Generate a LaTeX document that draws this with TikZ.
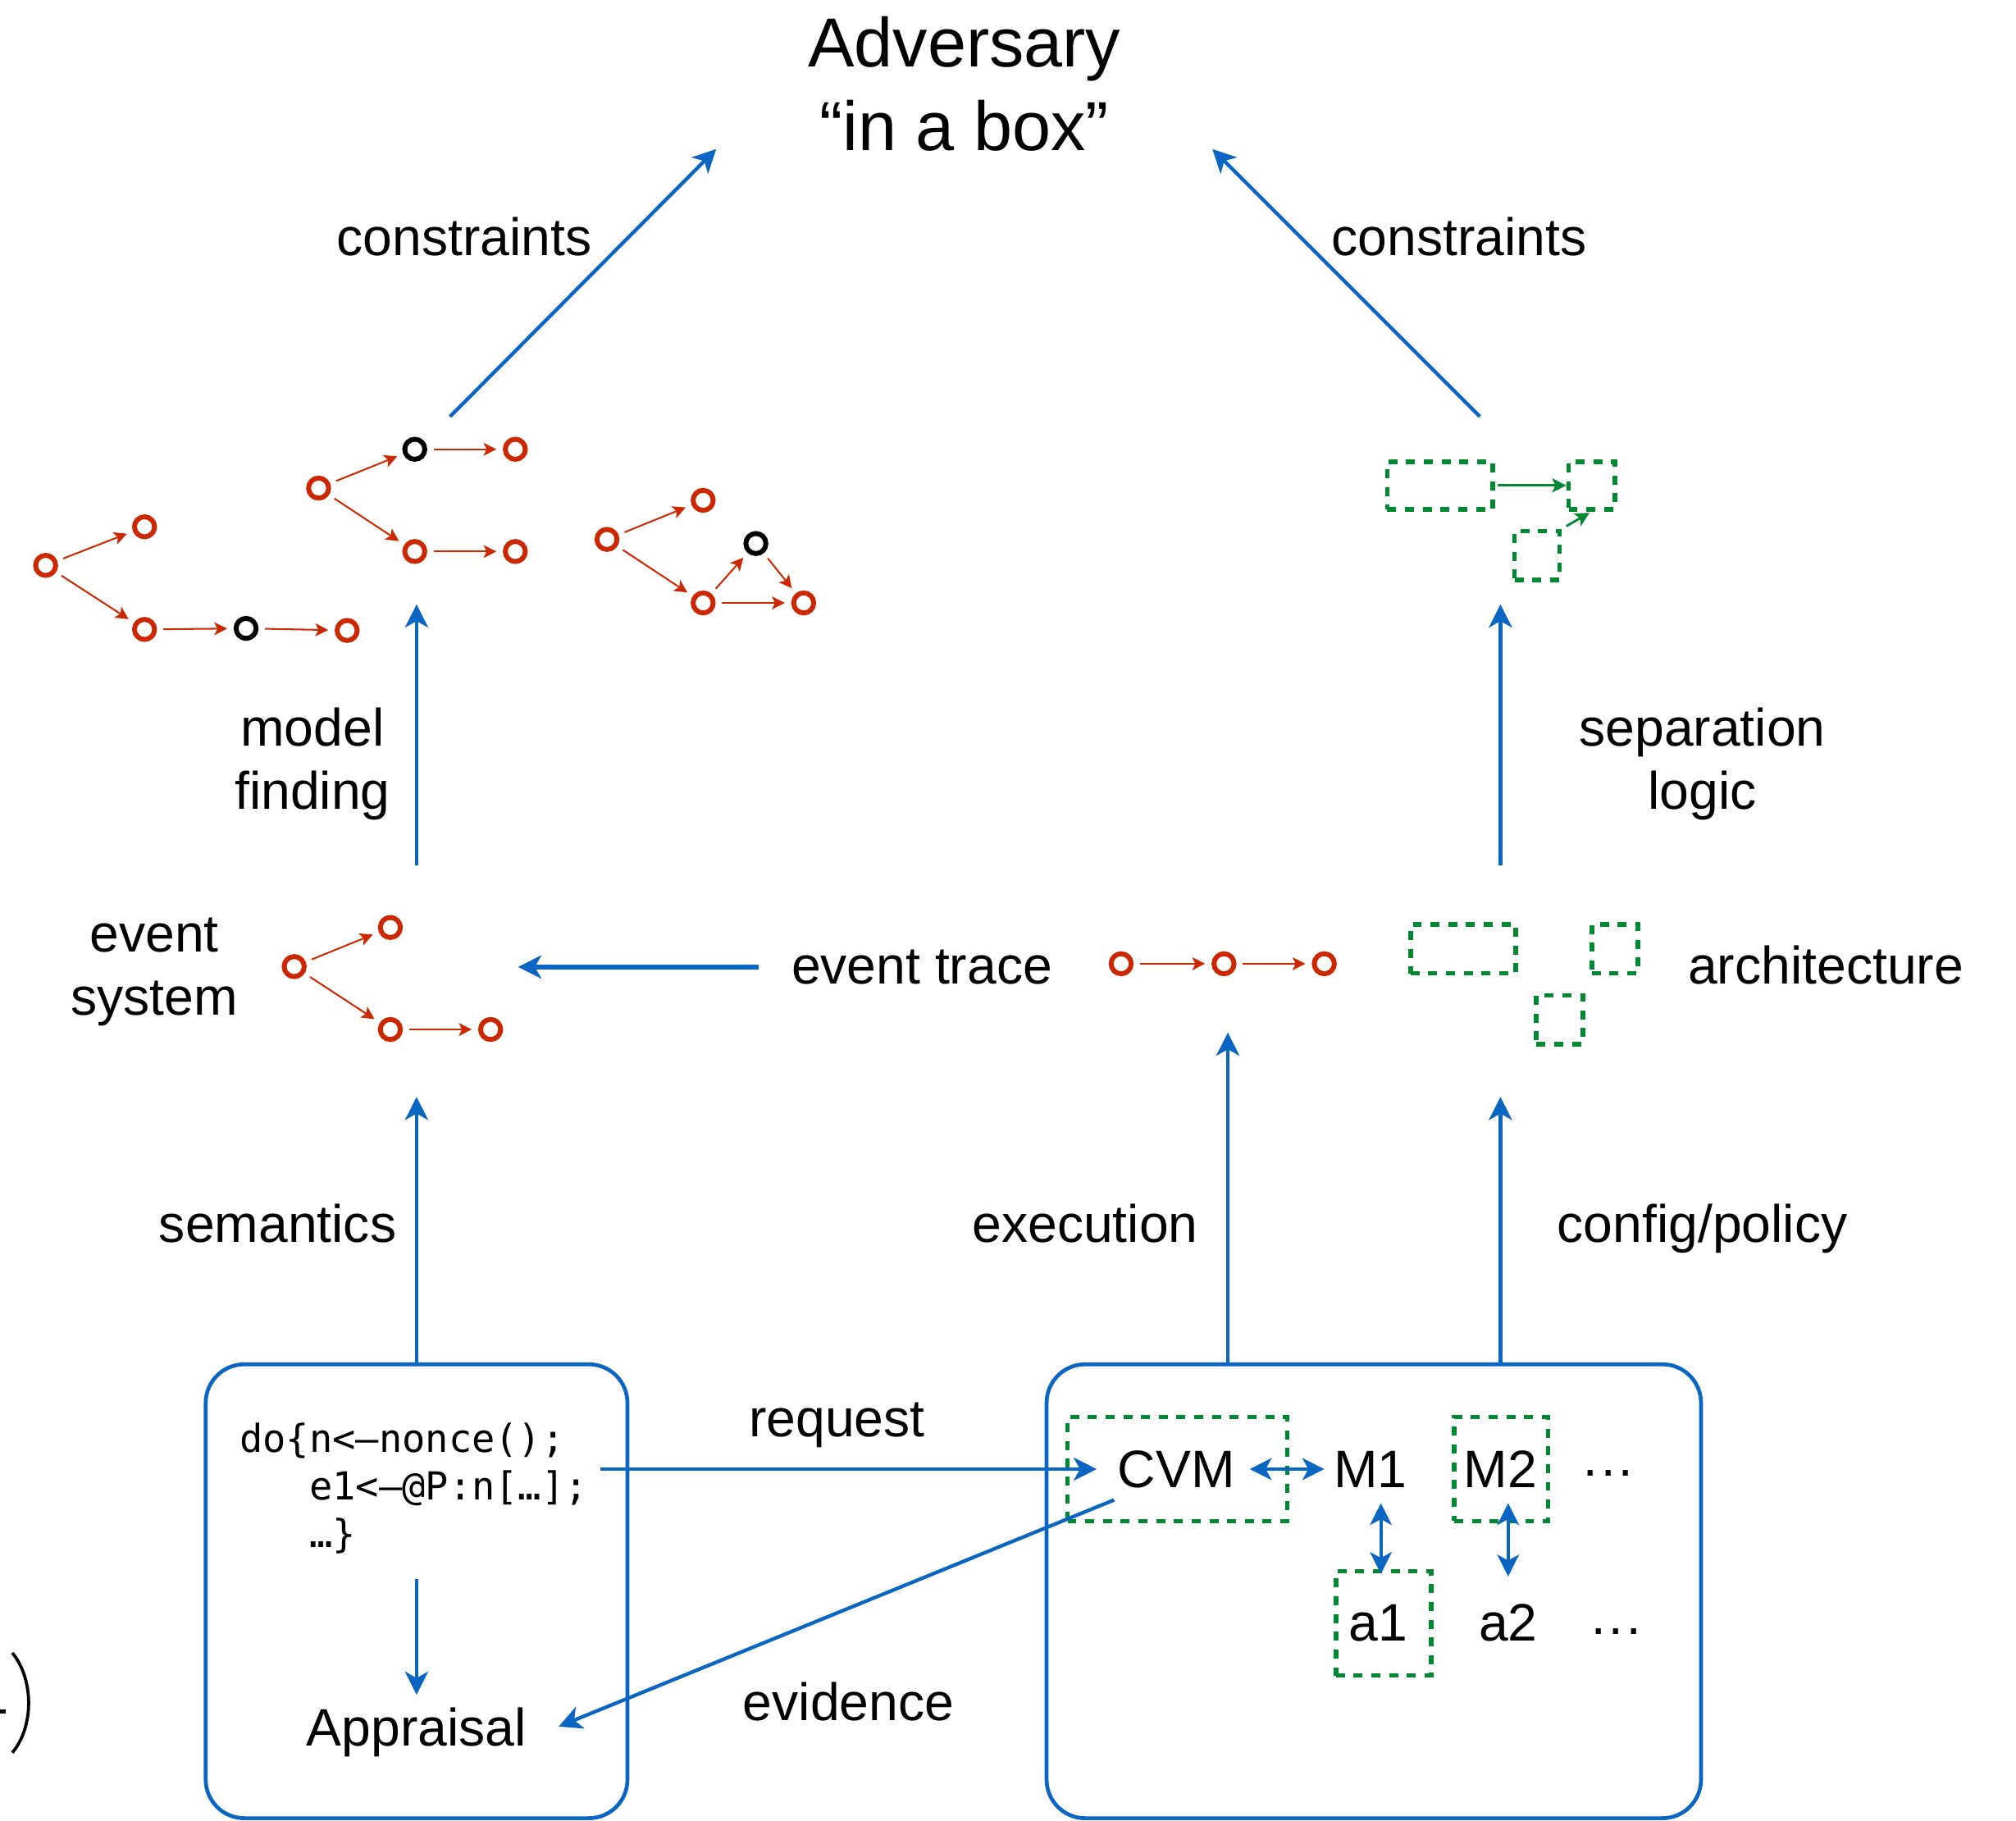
\documentclass[tikz,border=0pt]{standalone}
\usepackage{fontspec}
\setmainfont{Liberation Sans}
\newfontfamily\codefont{DejaVu Sans Mono}
\usetikzlibrary{arrows.meta}
\definecolor{evred}{RGB}{204,40,0}
\definecolor{grn}{RGB}{0,135,50}
\definecolor{blu}{RGB}{10,102,194}
\begin{document}
\begin{tikzpicture}[x=0.5pt,y=-0.5pt,
  lbl/.style={font=\fontsize{20.5pt}{24.5pt}\selectfont, inner sep=0pt},
  ev/.style={circle, draw=evred, line width=1.9pt, minimum size=7.8pt, inner sep=0pt},
  evk/.style={ev, draw=black},
  rarr/.style={evred, line width=0.65pt, -{Stealth[length=5pt,width=5pt,inset=1.2pt]}, shorten <=2.5pt, shorten >=2.5pt},
  gbox/.style={draw=grn, line width=1.8pt, dash pattern=on 3.5pt off 3.4pt, inner sep=0pt},
  garr/.style={grn, line width=0.9pt, -{Stealth[length=5.5pt,width=5.5pt,inset=1.3pt]}},
  barr/.style={blu, line width=1.4pt, -{Stealth[length=9pt,width=9pt,inset=2.5pt]}},
  bdarr/.style={blu, line width=1.2pt, {Stealth[length=8.5pt,width=8.5pt,inset=2.3pt]}-{Stealth[length=8.5pt,width=8.5pt,inset=2.3pt]}},
  bigbox/.style={draw=blu, line width=1.5pt, rounded corners=15pt, inner sep=0pt},
]
\useasboundingbox (0,0) rectangle (1568,1416);

% title
\node[font=\fontsize{27pt}{32.5pt}\selectfont, align=center, inner sep=0pt] (adv) at (750,65) {Adversary\\“in a box”};

% labels
\node[lbl, anchor=base] (conLtxt) at (361,199) {constraints};
\node[lbl, anchor=base] (conRtxt) at (1135,199) {constraints};
\node[lbl, align=center] (mf) at (243,594) {model\\finding};
\node[lbl, align=center] (sl) at (1324,594) {separation\\logic};
\node[lbl, align=center] (es) at (120,756) {event\\system};
\node[lbl, anchor=base] (et) at (717,765) {event trace};
\node[lbl, anchor=base] (arch) at (1420,765) {architecture};
\node[lbl, anchor=base] (sem) at (216,966) {semantics};
\node[lbl, anchor=base] (exe) at (844,966) {execution};
\node[lbl, anchor=base] (cfg) at (1324,966) {config/policy};
\node[lbl, anchor=base] (req) at (651,1117) {request};
\node[lbl, anchor=base] (evid) at (660,1338) {evidence};

% group A
\node[ev] (A1) at (35.5,439.7) {};
\node[ev] (A2) at (112.4,409.7) {};
\node[ev] (A3) at (112.4,489.5) {};
\node[evk] (A4) at (191.4,488.7) {};
\node[ev] (A5) at (270,490.3) {};
\draw[rarr] (A1) -- (A2);
\draw[rarr] (A1) -- (A3);
\draw[rarr] (A3) -- (A4);
\draw[rarr] (A4) -- (A5);
% group B
\node[ev] (B1) at (247.8,379.6) {};
\node[evk] (B2) at (322.6,349.4) {};
\node[ev] (B3) at (400.8,349.4) {};
\node[ev] (B4) at (322.6,428.9) {};
\node[ev] (B5) at (400.8,428.9) {};
\draw[rarr] (B1) -- (B2);
\draw[rarr] (B1) -- (B4);
\draw[rarr] (B2) -- (B3);
\draw[rarr] (B4) -- (B5);
% group C
\node[ev] (C1) at (472.1,419.5) {};
\node[ev] (C2) at (546.9,389.1) {};
\node[evk] (C3) at (587.9,422.7) {};
\node[ev] (C4) at (546.9,468.9) {};
\node[ev] (C5) at (625.1,468.9) {};
\draw[rarr] (C1) -- (C2);
\draw[rarr] (C1) -- (C4);
\draw[rarr] (C4) -- (C3);
\draw[rarr] (C3) -- (C5);
\draw[rarr] (C4) -- (C5);
% event system
\node[ev] (E1) at (228.8,751.7) {};
\node[ev] (E2) at (303.6,721.3) {};
\node[ev] (E3) at (303.6,800.6) {};
\node[ev] (E4) at (381.6,800.6) {};
\draw[rarr] (E1) -- (E2);
\draw[rarr] (E1) -- (E3);
\draw[rarr] (E3) -- (E4);
% event trace
\node[ev] (T1) at (872,749.5) {};
\node[ev] (T2) at (952,749.5) {};
\node[ev] (T3) at (1030,749.5) {};
\draw[rarr] (T1) -- (T2);
\draw[rarr] (T2) -- (T3);

% architecture (top)
\node[gbox, minimum width=41pt, minimum height=18.5pt] (bigT) at (1120,377.5) {};
\node[gbox, minimum width=18pt, minimum height=18.5pt] (smT1) at (1238,377.5) {};
\node[gbox, minimum width=17.5pt, minimum height=19pt] (smT2) at (1195.5,432) {};
\draw[garr, shorten <=1pt] (bigT.east) -- (smT1.west);
\draw[garr, shorten <=2pt, shorten >=1pt] (smT2.north east) -- (smT1.south);
% architecture (middle)
\node[gbox, minimum width=41pt, minimum height=19pt] (bigM) at (1138,738) {};
\node[gbox, minimum width=18pt, minimum height=19pt] (smM1) at (1256,738) {};
\node[gbox, minimum width=18pt, minimum height=19pt] (smM2) at (1213,793) {};

% bottom boxes
\node[bigbox, minimum width=164pt, minimum height=176.5pt] (appbox) at (324,1237.5) {};
\node[bigbox, minimum width=254.5pt, minimum height=176.5pt] (cvmbox) at (1068.5,1237.5) {};

% code and appraisal
\node[anchor=north west, align=left, inner sep=0pt, font=\codefont\fontsize{15pt}{18.5pt}\selectfont] (code) at (186,1106) {do\{n<–nonce();\\\hphantom{do\{}e1<–@P:n[…];\\\hphantom{do\{}…\}};
\node[lbl, anchor=base] (appr) at (324,1358) {Appraisal};

% CVM box contents
\node[gbox, minimum width=85.5pt, minimum height=40.5pt] (cvmdash) at (915.75,1142.5) {};
\node[gbox, minimum width=36.5pt, minimum height=40.5pt] (m2dash) at (1167.5,1142.5) {};
\node[gbox, minimum width=37pt, minimum height=40.5pt] (a1dash) at (1076,1262.5) {};
\node[lbl, anchor=base] (cvm) at (915,1157) {CVM};
\node[lbl, anchor=base] (m1) at (1066,1157) {M1};
\node[lbl, anchor=base] (m2) at (1167,1157) {M2};
\node[lbl, anchor=base] (dots1) at (1251,1157) {···};
\node[lbl, anchor=base] (a1) at (1072,1276) {a1};
\node[lbl, anchor=base] (a2) at (1173,1276) {a2};
\node[lbl, anchor=base] (dots2) at (1257,1280) {···};

% blue arrows
\coordinate (clS) at (350,324);
\coordinate (clE) at (557,116);
\coordinate (crS) at (1151,324);
\coordinate (crE) at (943,116);
\draw[barr] (clS) -- (clE);
\draw[barr] (crS) -- (crE);
\coordinate (mfS) at (324,673);
\coordinate (mfE) at (324,470);
\draw[barr] (mfS) -- (mfE);
\coordinate (slS) at (1167,673);
\coordinate (slE) at (1167,470);
\draw[barr] (slS) -- (slE);
\coordinate (etS) at (590,752);
\coordinate (etE) at (403,752);
\draw[barr, line width=1.7pt] (etS) -- (etE);
\coordinate (semE) at (324,853);
\draw[barr] (appbox.north) -- (semE);
\coordinate (exS) at (955,1061);
\coordinate (exE) at (955,803);
\draw[barr] (exS) -- (exE);
\coordinate (cfS) at (1167,1061);
\coordinate (cfE) at (1167,853);
\draw[barr] (cfS) -- (cfE);
\coordinate (rqS) at (467,1142.5);
\coordinate (rqE) at (853,1142.5);
\draw[barr] (rqS) -- (rqE);
\coordinate (evS) at (866.5,1166.5);
\coordinate (evE) at (434.5,1342.7);
\draw[barr] (evS) -- (evE);
\coordinate (caS) at (324,1228);
\coordinate (caE) at (324,1318);
\draw[barr] (caS) -- (caE);
\coordinate (cmS) at (972,1142.5);
\coordinate (cmE) at (1030,1142.5);
\draw[bdarr] (cmS) -- (cmE);
\coordinate (maS) at (1074,1169);
\coordinate (maE) at (1074,1224);
\draw[bdarr] (maS) -- (maE);
\coordinate (mbS) at (1173,1169);
\coordinate (mbE) at (1173,1226);
\draw[bdarr] (mbS) -- (mbE);

% cut-off fragment at the left edge
\draw[line width=1.2pt] (9.6,1285.4) .. controls (26.5,1306) and (26.5,1343) .. (9.6,1363);
\draw[line width=1.3pt] (0,1331) -- (4.3,1331);
\end{tikzpicture}
\end{document}
